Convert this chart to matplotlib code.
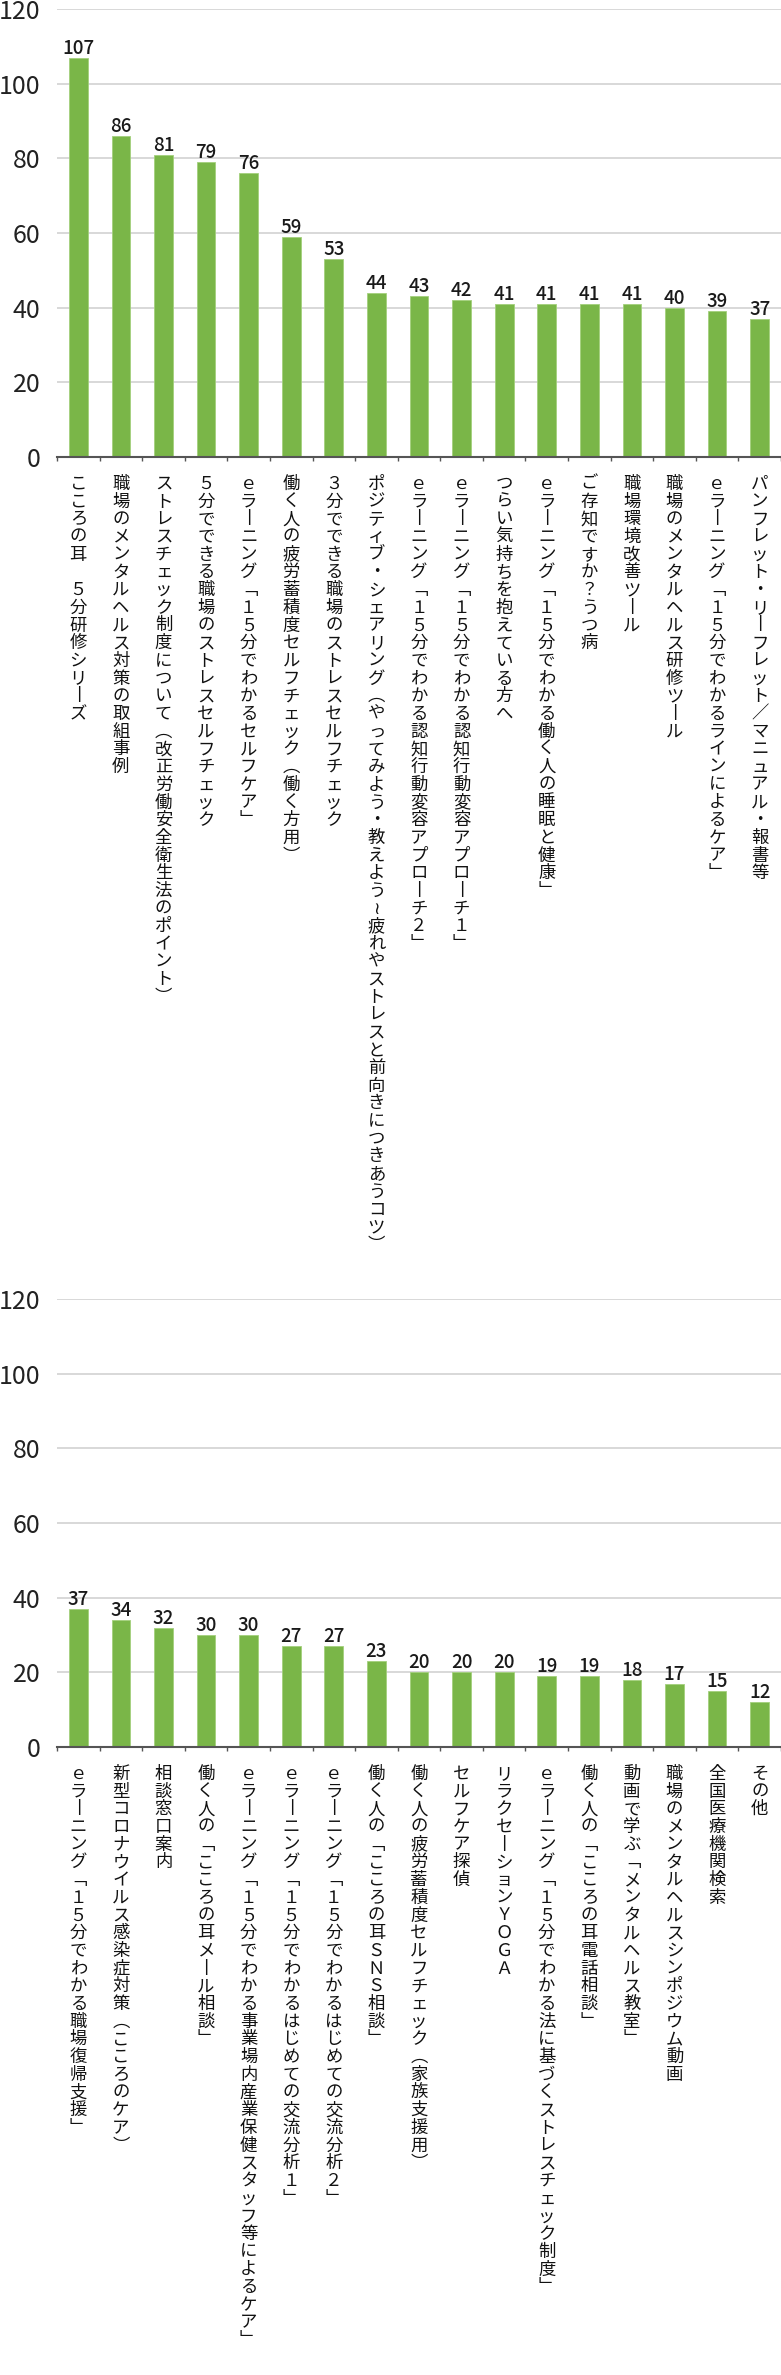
import matplotlib
matplotlib.use('Agg')
import matplotlib.pyplot as plt
from matplotlib.ticker import MultipleLocator

plt.rcParams['font.family'] = ['Noto Sans CJK JP', 'DejaVu Sans']

labels_top = [
    "こころの耳　５分研修シリーズ",
    "職場のメンタルヘルス対策の取組事例",
    "ストレスチェック制度について（改正労働安全衛生法のポイント）",
    "５分でできる職場のストレスセルフチェック",
    "ｅラーニング「１５分でわかるセルフケア」",
    "働く人の疲労蓄積度セルフチェック（働く方用）",
    "３分でできる職場のストレスセルフチェック",
    "ポジティブ・シェアリング（やってみよう・教えよう～疲れやストレスと前向きにつきあうコツ）",
    "ｅラーニング「１５分でわかる認知行動変容アプローチ２」",
    "ｅラーニング「１５分でわかる認知行動変容アプローチ１」",
    "つらい気持ちを抱えている方へ",
    "ｅラーニング「１５分でわかる働く人の睡眠と健康」",
    "ご存知ですか？うつ病",
    "職場環境改善ツール",
    "職場のメンタルヘルス研修ツール",
    "ｅラーニング「１５分でわかるラインによるケア」",
    "パンフレット・リーフレット／マニュアル・報書等",
]
values_top = [107, 86, 81, 79, 76, 59, 53, 44, 43, 42, 41, 41, 41, 41, 40, 39, 37]

labels_bottom = [
    "ｅラーニング「１５分でわかる職場復帰支援」",
    "新型コロナウイルス感染症対策（こころのケア）",
    "相談窓口案内",
    "働く人の「こころの耳メール相談」",
    "ｅラーニング「１５分でわかる事業場内産業保健スタッフ等によるケア」",
    "ｅラーニング「１５分でわかるはじめての交流分析１」",
    "ｅラーニング「１５分でわかるはじめての交流分析２」",
    "働く人の「こころの耳ＳＮＳ相談」",
    "働く人の疲労蓄積度セルフチェック（家族支援用）",
    "セルフケア探偵",
    "リラクセーションＹＯＧＡ",
    "ｅラーニング「１５分でわかる法に基づくストレスチェック制度」",
    "働く人の「こころの耳電話相談」",
    "動画で学ぶ「メンタルヘルス教室」",
    "職場のメンタルヘルスシンポジウム動画",
    "全国医療機関検索",
    "その他",
]
values_bottom = [37, 34, 32, 30, 30, 27, 27, 23, 20, 20, 20, 19, 19, 18, 17, 15, 12]

# vertical writing forms
VERT = {'ー': '丨', '「': '﹁', '」': '﹂', '（': '︵', '）': '︶', '～': '≀'}

GREEN = '#7ab648'
PITCH = 17.7   # px per character in vertical labels
START = 18     # px gap below the axis


def draw_panel(ax, labels, values):
    x = list(range(len(values)))
    ax.bar(x, values, width=0.44, color=GREEN, edgecolor='#a3d07c',
           linewidth=0.6, zorder=3)
    ax.set_xlim(-0.5, len(values) - 0.5)
    ax.set_ylim(0, 120)
    ax.yaxis.set_major_locator(MultipleLocator(20))
    ax.grid(axis='y', color='#d2d2d2', linewidth=1.2, zorder=0)
    for s in ['top', 'right', 'left']:
        ax.spines[s].set_visible(False)
    ax.spines['bottom'].set_color('#555555')
    ax.spines['bottom'].set_linewidth(1.5)
    ax.spines['bottom'].set_zorder(4)
    ax.set_xticks([])
    ax.set_xticks([i - 0.5 for i in x] + [len(values) - 0.5], minor=True)
    ax.tick_params(axis='x', which='minor', direction='out', length=3,
                   width=1, color='#555555')
    ax.tick_params(axis='y', length=0, pad=12, labelsize=18,
                   labelcolor='#222222')
    for i, v in enumerate(values):
        ax.annotate(str(v), (i, v), xytext=(0, 0), textcoords='offset pixels',
                    ha='center', va='bottom', fontsize=13.5, fontweight='medium',
                    color='#1a1a1a', zorder=5)
    for i, lab in enumerate(labels):
        for k, ch in enumerate(lab):
            ax.annotate(VERT.get(ch, ch), (i, 0),
                        xytext=(0, -(START + PITCH * (k + 0.5))),
                        textcoords='offset pixels', ha='center', va='center',
                        fontsize=12.5, color='#111111', annotation_clip=False)


fig = plt.figure(figsize=(7.81, 23.75), dpi=100)
ax1 = fig.add_axes([57 / 781, 1918 / 2375, 724 / 781, 448 / 2375])
ax2 = fig.add_axes([57 / 781, 628 / 2375, 724 / 781, 448 / 2375])
draw_panel(ax1, labels_top, values_top)
draw_panel(ax2, labels_bottom, values_bottom)

fig.savefig('out.png', dpi=100)
